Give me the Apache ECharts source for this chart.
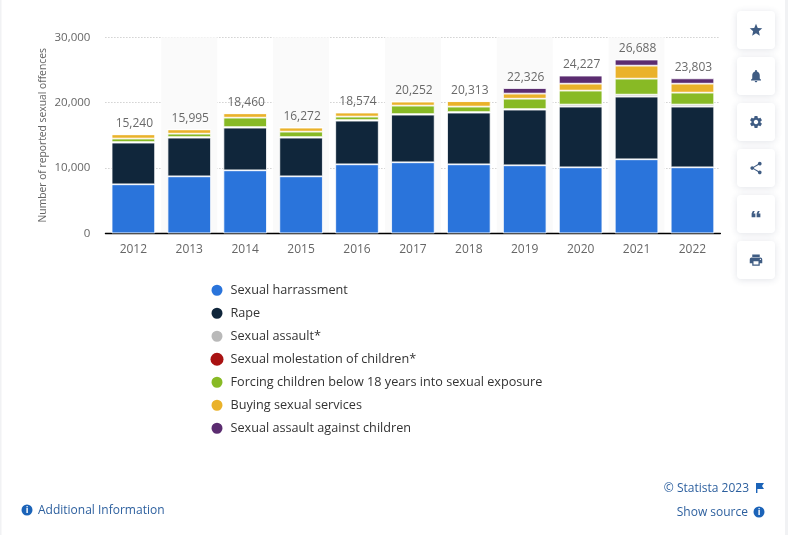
<!DOCTYPE html>
<html><head><meta charset="utf-8">
<style>html,body{margin:0;padding:0;background:#fff}#c{width:788px;height:535px}</style>
<script src="https://cdn.jsdelivr.net/npm/echarts@6/dist/echarts.min.js"></script>
</head><body><div id="c"></div>
<script>
const years = ['2012','2013','2014','2015','2016','2017','2018','2019','2020','2021','2022'];
const totals = [15240,15995,18460,16272,18574,20252,20313,22326,24227,26688,23803];
const harassment = [7500,8720,9640,8720,10560,10870,10560,10410,10100,11330,10100];
const rape = [6380,5920,6530,5920,6680,7290,7910,8520,9290,9590,9290];
const assault = [80,80,80,80,80,80,80,80,310,300,310];
const molestation = [0,0,0,0,0,0,0,0,0,0,0];
const forcing = [540,530,1450,840,540,1300,840,1590,2140,2450,1830];
const buying = [650,655,670,622,624,622,833,780,1060,1990,1370];
const againstChildren = [0,0,0,0,0,0,0,856,1237,938,813];
const yTicks = [0,10000,20000,30000];
const names = ['Sexual harrassment','Rape','Sexual assault*','Sexual molestation of children*','Forcing children below 18 years into sexual exposure','Buying sexual services','Sexual assault against children'];
const colors = ['#2a74db','#10263b','#b9b9b9','#a91212','#88ba25','#eab22a','#5b2c70'];
const values = [harassment,rape,assault,molestation,forcing,buying,againstChildren];
const font = '"Open Sans"';

const icons = [
 'M12 17.27L18.18 21l-1.64-7.03L22 9.24l-7.19-.61L12 2 9.19 8.63 2 9.24l5.46 4.73L5.82 21z',
 'M12 22c1.1 0 2-.9 2-2h-4c0 1.1.9 2 2 2zm6-6v-5c0-3.07-1.63-5.64-4.5-6.32V4c0-.83-.67-1.5-1.5-1.5s-1.5.67-1.5 1.5v.68C7.64 5.36 6 7.92 6 11v5l-2 2v1h16v-1l-2-2z',
 'M19.14 12.94c.04-.3.06-.61.06-.94 0-.32-.02-.64-.07-.94l2.03-1.58c.18-.14.23-.41.12-.61l-1.92-3.32c-.12-.22-.37-.29-.59-.22l-2.39.96c-.5-.38-1.03-.7-1.62-.94l-.36-2.54c-.04-.24-.24-.41-.48-.41h-3.84c-.24 0-.43.17-.47.41l-.36 2.54c-.59.24-1.13.57-1.62.94l-2.39-.96c-.22-.08-.47 0-.59.22L2.74 8.87c-.12.21-.08.47.12.61l2.03 1.58c-.05.3-.09.63-.09.94s.02.64.07.94l-2.03 1.58c-.18.14-.23.41-.12.61l1.92 3.32c.12.22.37.29.59.22l2.39-.96c.5.38 1.03.7 1.62.94l.36 2.54c.05.24.24.41.48.41h3.84c.24 0 .44-.17.47-.41l.36-2.54c.59-.24 1.13-.56 1.62-.94l2.39.96c.22.08.47 0 .59-.22l1.92-3.32c.12-.22.07-.47-.12-.61l-2.01-1.58zM12 15.6c-1.98 0-3.6-1.62-3.6-3.6s1.62-3.6 3.6-3.6 3.6 1.62 3.6 3.6-1.62 3.6-3.6 3.6z',
 'M18 16.08c-.76 0-1.44.3-1.96.77L8.91 12.7c.05-.23.09-.46.09-.7s-.04-.47-.09-.7l7.05-4.11c.54.5 1.25.81 2.04.81 1.66 0 3-1.34 3-3s-1.34-3-3-3-3 1.34-3 3c0 .24.04.47.09.7L8.04 9.81C7.5 9.31 6.79 9 6 9c-1.66 0-3 1.34-3 3s1.34 3 3 3c.79 0 1.5-.31 2.04-.81l7.12 4.16c-.05.21-.08.43-.08.65 0 1.61 1.31 2.92 2.92 2.92 1.61 0 2.92-1.31 2.92-2.92s-1.31-2.92-2.92-2.92z',
 'M18 7h-3l-2 4v6h6v-6h-3zm-8 0H7l-2 4v6h6v-6H8z',
 'M19 8H5c-1.66 0-3 1.34-3 3v6h4v4h12v-4h4v-6c0-1.66-1.34-3-3-3zm-3 11H8v-5h8v5zm3-7c-.55 0-1-.45-1-1s.45-1 1-1 1 .45 1 1-.45 1-1 1zm-1-9H6v4h12V3z'
];
icons.forEach((d,i)=>echarts.graphic.registerShape('ic'+i,echarts.graphic.extendPath(d,{})));
echarts.graphic.registerShape('flag',echarts.graphic.extendPath('M0 0V10H1.4V6H8L6 3L8 0Z',{}));

const graphics = [];
graphics.push({type:'rect',z:-1,shape:{x:785,y:0,width:3,height:535},style:{fill:'#f1f2f4'}});
graphics.push({type:'rect',z:-1,shape:{x:0,y:0,width:1.5,height:535},style:{fill:'#f1f2f4'}});
icons.forEach((d,i)=>{
  const cy = 30 + i*46;
  graphics.push({type:'rect',shape:{x:737,y:cy-19,width:38,height:38,r:4},
    style:{fill:'#fff',shadowBlur:7,shadowColor:'rgba(40,60,90,0.14)',shadowOffsetY:1}});
  graphics.push({type:'ic'+i,x:748.5,y:cy-7.5,scaleX:15/24,scaleY:15/24,style:{fill:'#3f5c83'}});
});
function info(cx,cy){
  graphics.push({type:'circle',shape:{cx,cy,r:5.5},style:{fill:'#1b63b8'}});
  graphics.push({type:'text',style:{x:cx,y:cy,text:'i',fill:'#fff',font:'bold 9px '+font,align:'center',verticalAlign:'middle'}});
}
info(27,510); info(759,512);
const link='#2c5f9e';
graphics.push({type:'text',style:{x:38,y:510.5,text:'Additional Information',fill:link,font:'12px '+font,verticalAlign:'middle'}});
graphics.push({type:'text',style:{x:749,y:488.5,text:'© Statista 2023',fill:link,font:'12px '+font,align:'right',verticalAlign:'middle'}});
graphics.push({type:'text',style:{x:748,y:512.5,text:'Show source',fill:link,font:'12px '+font,align:'right',verticalAlign:'middle'}});
graphics.push({type:'flag',x:756,y:483,style:{fill:'#1b63b8'}});

const series = names.map((n,i)=>({
  name:n,type:'bar',stack:'total',data:values[i],barWidth:43.5,
  itemStyle:{color:colors[i],borderColor:'#fff',borderWidth:values[i].every(v=>v===0)?0:0.8},
  emphasis:{disabled:true}
}));
series.push({
  name:'Total',type:'scatter',data:totals,symbol:'circle',symbolSize:1,silent:true,
  itemStyle:{color:'rgba(255,255,255,0)'},
  label:{show:true,position:'top',distance:3.5,offset:[1,0],color:'#444',fontFamily:font,fontSize:12,
    formatter:p=>p.value.toLocaleString('en-US')}
});

const chart = echarts.init(document.getElementById('c'),null,{renderer:'canvas'});
chart.setOption({
  animation:false,backgroundColor:'#fff',
  grid:{left:105.4,top:37.3,width:615,height:196},
  color:colors,
  legend:{data:names,orient:'vertical',left:204.5,top:277,itemWidth:13,itemHeight:13,icon:'circle',itemGap:6.5,
    selectedMode:false,textStyle:{color:'#333',fontFamily:font,fontSize:12.66,fontWeight:500,height:16.5,lineHeight:16.5,padding:[0,0,0,2]}},
  xAxis:{type:'category',data:years,
    axisLine:{lineStyle:{color:'#000',width:1.3}},axisTick:{show:false},
    axisLabel:{color:'#666',fontFamily:font,fontSize:12,margin:10},
    splitArea:{show:true,areaStyle:{color:['rgba(255,255,255,0)','#fafafa']}},
    splitLine:{show:false}},
  yAxis:{type:'value',min:yTicks[0],max:yTicks[3],interval:yTicks[1],
    name:'Number of reported sexual offences',nameLocation:'middle',nameGap:57,nameRotate:90,nameMoveOverlap:false,
    nameTextStyle:{color:'#666',fontFamily:font,fontSize:10.3},
    axisLine:{show:false},axisTick:{show:false},
    axisLabel:{color:'#666',fontFamily:font,fontSize:11.5,margin:15,formatter:v=>v.toLocaleString('en-US')},
    splitLine:{lineStyle:{color:'#bbb',type:[1,2],width:1}}},
  series,
  graphic:graphics
});
</script></body></html>
